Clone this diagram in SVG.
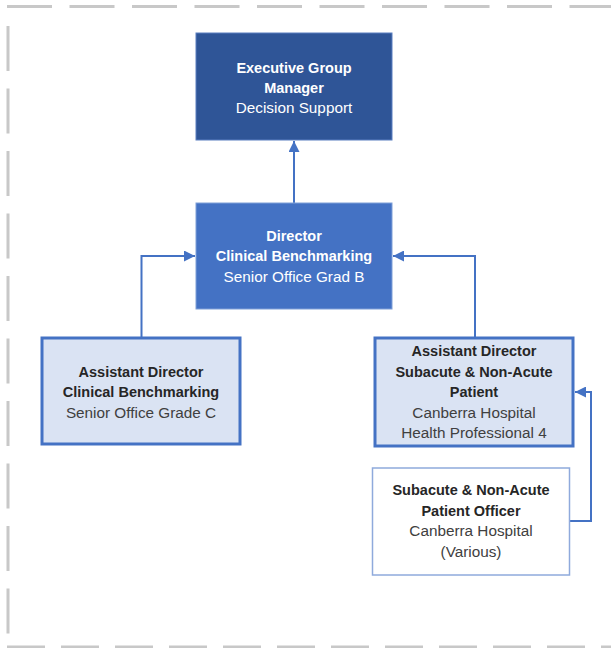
<svg xmlns="http://www.w3.org/2000/svg" width="611" height="648" viewBox="0 0 611 648">
<defs>
<style>
.frame{fill:none;stroke:#c8c8c8;stroke-width:3}
.t{font-family:"Liberation Sans",Arial,sans-serif;font-size:14.5px;text-anchor:middle}
.b{font-weight:bold}
.n{font-size:15.3px}
.w{fill:#ffffff}
.d{fill:#262626}
.r{fill:#404040}
.conn{fill:none;stroke:#4472c4;stroke-width:2}
</style>
<marker id="arr" viewBox="0 0 10 10" refX="10" refY="5" markerWidth="11" markerHeight="11" markerUnits="userSpaceOnUse" orient="auto">
<path d="M0,0 L10,5 L0,10 Z" fill="#4472c4"/>
</marker>
</defs>
<rect width="611" height="648" fill="#ffffff"/>
<g id="frame">
<line class="frame" x1="7" y1="6.5" x2="611" y2="6.5" stroke-dasharray="45 17.5"/>
<line class="frame" x1="8" y1="26" x2="8" y2="640" stroke-dasharray="45 17.5"/>
<line class="frame" x1="7" y1="647" x2="611" y2="647" stroke-dasharray="38 16"/>
</g>
<g id="connectors">
<line class="conn" x1="294" y1="203" x2="294" y2="141" marker-end="url(#arr)"/>
<polyline class="conn" points="141.5,337 141.5,256 195,256" marker-end="url(#arr)"/>
<polyline class="conn" points="475,337 475,256 393,256" marker-end="url(#arr)"/>
<polyline class="conn" points="570,521 591,521 591,392 575,392" marker-end="url(#arr)"/>
</g>
<g id="exec">
<rect x="196" y="33" width="196" height="107" fill="#2f5597" stroke="#5b7fc0" stroke-width="1"/>
<text class="t b w" x="294" y="73">Executive Group</text>
<text class="t b w" x="294" y="93">Manager</text>
<text class="t n w" x="294" y="113">Decision Support</text>
</g>
<g id="director">
<rect x="196" y="203" width="196" height="106" fill="#4472c4" stroke="#7f9fd8" stroke-width="1"/>
<text class="t b w" x="294" y="241">Director</text>
<text class="t b w" x="294" y="261">Clinical Benchmarking</text>
<text class="t n w" x="294" y="282">Senior Office Grad B</text>
</g>
<g id="asst-clinical">
<rect x="42" y="338" width="198" height="106" fill="#dae3f3" stroke="#4472c4" stroke-width="3"/>
<text class="t b d" x="141" y="377">Assistant Director</text>
<text class="t b d" x="141" y="397">Clinical Benchmarking</text>
<text class="t n r" x="141" y="418">Senior Office Grade C</text>
</g>
<g id="asst-subacute">
<rect x="375" y="338" width="198" height="108" fill="#dae3f3" stroke="#4472c4" stroke-width="3"/>
<text class="t b d" x="474" y="356">Assistant Director</text>
<text class="t b d" x="474" y="377">Subacute &amp; Non-Acute</text>
<text class="t b d" x="474" y="397">Patient</text>
<text class="t n r" x="474" y="418">Canberra Hospital</text>
<text class="t n r" x="474" y="438">Health Professional 4</text>
</g>
<g id="officer">
<rect x="372.5" y="468" width="197" height="107" fill="#ffffff" stroke="#8faadc" stroke-width="1.5"/>
<text class="t b d" x="471" y="495">Subacute &amp; Non-Acute</text>
<text class="t b d" x="471" y="516">Patient Officer</text>
<text class="t n r" x="471" y="536">Canberra Hospital</text>
<text class="t n r" x="471" y="557">(Various)</text>
</g>
</svg>
